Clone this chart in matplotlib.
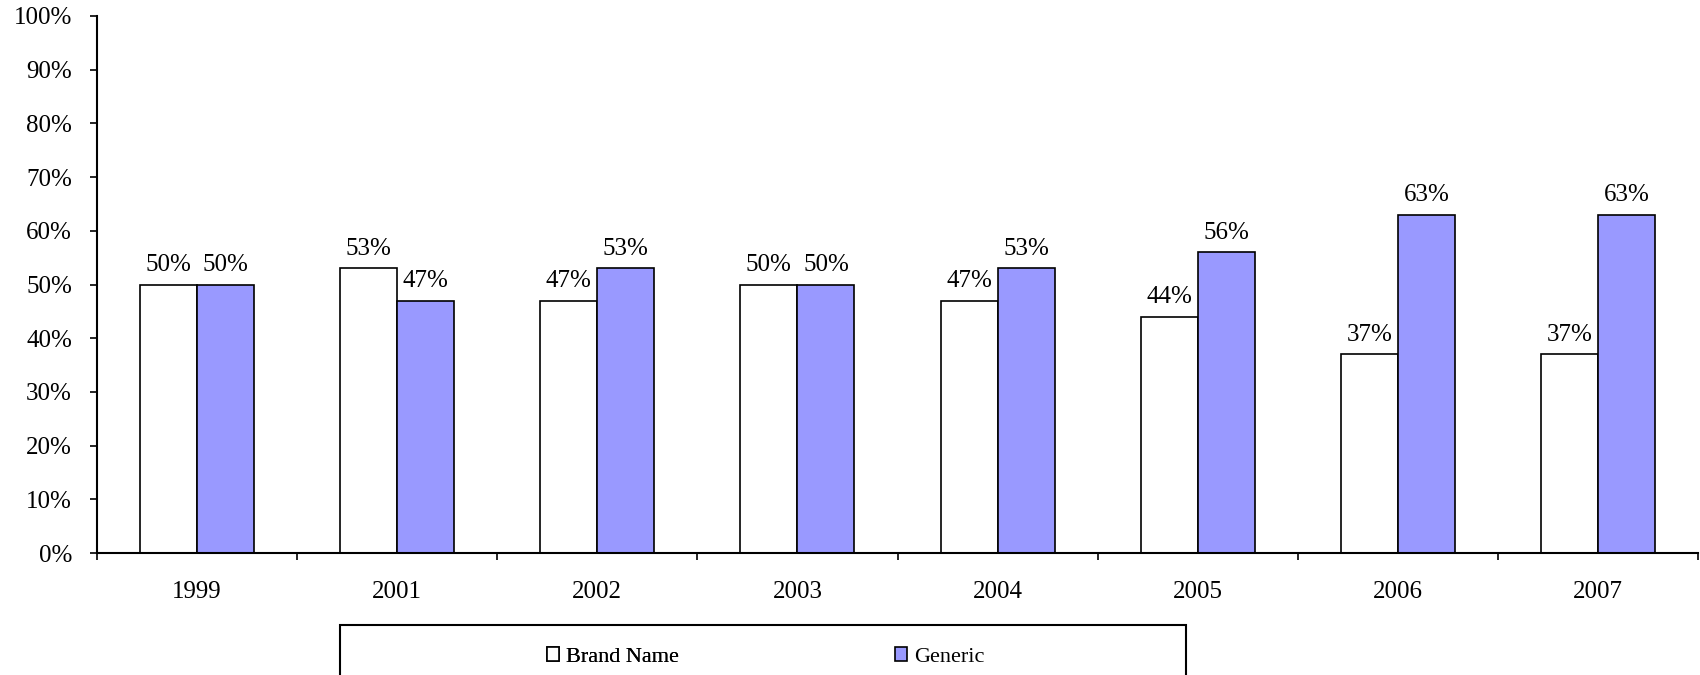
import matplotlib
matplotlib.use("Agg")
import matplotlib.pyplot as plt
import numpy as np
from matplotlib.patches import Rectangle

years = ["1999", "2001", "2002", "2003", "2004", "2005", "2006", "2007"]
brand = [50, 53, 47, 50, 47, 44, 37, 37]
generic = [50, 47, 53, 50, 53, 56, 63, 63]
series_names = ["Brand Name", "Generic"]
yticks = [0, 10, 20, 30, 40, 50, 60, 70, 80, 90, 100]

plt.rcParams['font.family'] = ['Liberation Serif', 'DejaVu Serif']
FS = 18
LFS = 16

fig = plt.figure(figsize=(17, 6.75), dpi=100)
ax = fig.add_axes([97/1700, 1-553/675, (1698-97)/1700, (553-16)/675])

x = np.arange(len(years))
w = 0.285
b1 = ax.bar(x - w/2, brand, w, color="white", edgecolor="black", linewidth=1.2, label=series_names[0])
b2 = ax.bar(x + w/2, generic, w, color="#9999FF", edgecolor="black", linewidth=1.2, label=series_names[1])

for bars, vals in ((b1, brand), (b2, generic)):
    for r, v in zip(bars, vals):
        ax.annotate(f"{v}%", (r.get_x() + r.get_width()/2, v), xytext=(0, 6),
                    textcoords="offset points", ha="center", va="bottom", fontsize=FS)

ax.set_xlim(-0.5, len(years) - 0.5)
ax.set_ylim(0, 100)
ax.set_yticks(yticks)
ax.set_yticklabels([f"{t}%" for t in yticks], fontsize=FS)
ax.set_xticks(np.arange(len(years) + 1) - 0.5)
ax.set_xticklabels([])
ax.set_xticks(x, minor=True)
ax.set_xticklabels(years, minor=True, fontsize=FS)
ax.tick_params(axis="x", which="major", direction="out", length=5, width=1.2)
ax.tick_params(axis="x", which="minor", length=0, pad=20)
ax.tick_params(axis="y", direction="out", length=5, width=1.2, pad=13)
for s in ("top", "right"):
    ax.spines[s].set_visible(False)
for s in ("left", "bottom"):
    ax.spines[s].set_linewidth(1.5)

# legend frame
fig.patches.append(Rectangle((340/1700, -0.05), (1186-340)/1700, 0.05 + (675-625)/675,
                             transform=fig.transFigure, fill=False, edgecolor="black",
                             linewidth=1.5, clip_on=False))
ly = 1 - 657/675
common = dict(frameon=False, fontsize=LFS, handlelength=0.55, handleheight=0.55,
              handletextpad=0.3, borderpad=0, borderaxespad=0, loc="center left")
leg1 = fig.legend(handles=[b1], bbox_to_anchor=(547/1700, ly), **common)
fig.add_artist(leg1)
fig.legend(handles=[b2], bbox_to_anchor=(895/1700, ly), **common)

fig.savefig("out.png", dpi=100)
